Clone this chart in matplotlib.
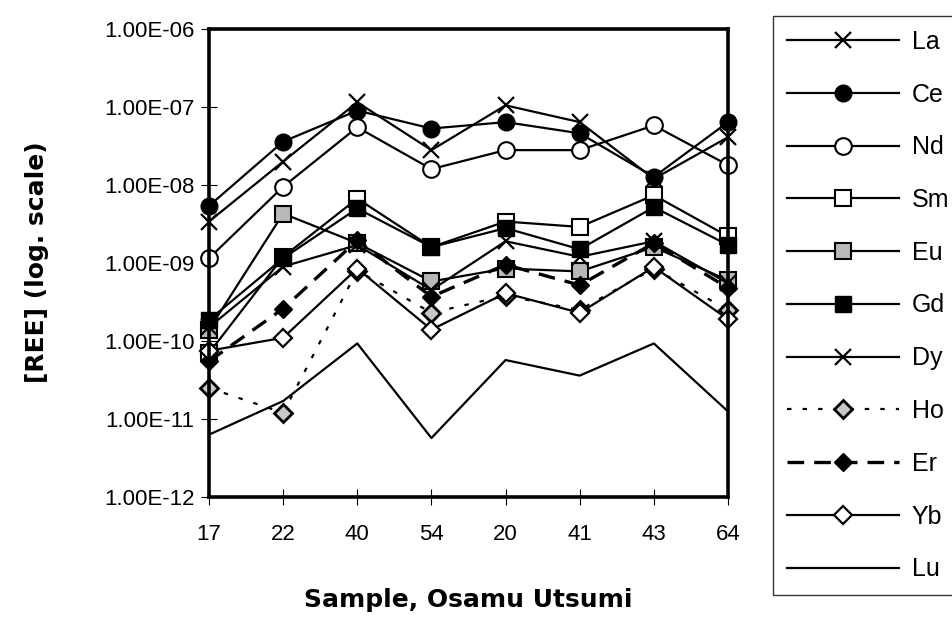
import matplotlib
matplotlib.use("Agg")
import matplotlib.pyplot as plt
from matplotlib.ticker import FixedLocator, FuncFormatter, NullLocator

plt.rcParams['font.family'] = ['Liberation Sans', 'DejaVu Sans']

samples = ['17', '22', '40', '54', '20', '41', '43', '64']
La = [3.4e-9, 2.0e-8, 1.15e-7, 2.8e-8, 1.05e-7, 6.4e-8, 1.2e-8, 4.1e-8]
Ce = [5.4e-9, 3.6e-8, 9.0e-8, 5.3e-8, 6.4e-8, 4.6e-8, 1.27e-8, 6.4e-8]
Nd = [1.15e-9, 9.5e-9, 5.5e-8, 1.6e-8, 2.8e-8, 2.8e-8, 5.8e-8, 1.8e-8]
Sm = [7.0e-11, 1.2e-9, 6.7e-9, 1.6e-9, 3.4e-9, 2.9e-9, 7.4e-9, 2.2e-9]
Eu = [1.4e-10, 4.3e-9, 1.8e-9, 5.8e-10, 8.5e-10, 7.8e-10, 1.6e-9, 6.0e-10]
Gd = [1.86e-10, 1.15e-9, 5.0e-9, 1.6e-9, 2.8e-9, 1.5e-9, 5.2e-9, 1.7e-9]
Dy = [1.5e-10, 9.0e-10, 1.7e-9, 4.5e-10, 1.9e-9, 1.2e-9, 1.9e-9, 5.5e-10]
Ho = [2.5e-11, 1.2e-11, 8.0e-10, 2.3e-10, 3.8e-10, 2.5e-10, 8.5e-10, 2.5e-10]
Er = [5.5e-11, 2.6e-10, 1.95e-9, 3.7e-10, 9.5e-10, 5.2e-10, 1.8e-9, 4.8e-10]
Yb = [7.5e-11, 1.1e-10, 8.5e-10, 1.4e-10, 4.1e-10, 2.3e-10, 8.9e-10, 1.9e-10]
Lu = [6.3e-12, 1.7e-11, 9.3e-11, 5.7e-12, 5.7e-11, 3.6e-11, 9.3e-11, 1.25e-11]

y_ticks = [1e-12, 1e-11, 1e-10, 1e-9, 1e-8, 1e-7, 1e-6]

fig = plt.figure(figsize=(9.52, 6.2), dpi=100)
ax = fig.add_axes([209/952, 123/620, 519/952, 468/620])

x = list(range(len(samples)))
lw = 1.6
series = [
    ('La', La, dict(marker='x', ms=12, mew=1.6, color='black', ls='-', lw=lw)),
    ('Ce', Ce, dict(marker='o', ms=12, mfc='black', mec='black', color='black', ls='-', lw=lw)),
    ('Nd', Nd, dict(marker='o', ms=12, mfc='white', mec='black', mew=1.5, color='black', ls='-', lw=lw)),
    ('Sm', Sm, dict(marker='s', ms=12, mfc='white', mec='black', mew=1.5, color='black', ls='-', lw=lw)),
    ('Eu', Eu, dict(marker='s', ms=12, mfc='#b8b8b8', mec='black', mew=1.5, color='black', ls='-', lw=lw)),
    ('Gd', Gd, dict(marker='s', ms=12, mfc='black', mec='black', color='black', ls='-', lw=lw)),
    ('Dy', Dy, dict(marker='x', ms=12, mew=1.6, color='black', ls='-', lw=lw)),
    ('Ho', Ho, dict(marker='D', ms=9, mfc='#c8c8c8', mec='black', mew=2, color='black', ls=(0, (2, 5)), lw=1.6)),
    ('Er', Er, dict(marker='D', ms=9, mfc='black', mec='black', color='black', ls=(0, (5, 3)), lw=2.4)),
    ('Yb', Yb, dict(marker='D', ms=9, mfc='white', mec='black', mew=1.6, color='black', ls='-', lw=lw)),
    ('Lu', Lu, dict(marker='None', color='black', ls='-', lw=lw)),
]

handles = []
for name, vals, kw in series:
    h, = ax.plot(x, vals, label=name, clip_on=False, **kw)
    handles.append(h)

ax.set_yscale('log')
ax.set_ylim(1e-12, 1e-6)
ax.set_xlim(0, len(samples) - 1)
ax.yaxis.set_major_locator(FixedLocator(y_ticks))
ax.yaxis.set_minor_locator(NullLocator())
ax.yaxis.set_major_formatter(FuncFormatter(lambda v, p: ('%.2E' % v)))
ax.set_xticks(x)
ax.set_xticklabels(samples)

for s in ax.spines.values():
    s.set_linewidth(2.6)
    s.set_color('black')

ax.tick_params(axis='y', direction='inout', length=11, width=0.8, labelsize=16, pad=5)
ax.tick_params(axis='x', direction='inout', length=11, width=0.8, labelsize=16, pad=14)

fig.text(37/952, 1 - 262/620, '[REE] (log. scale)', rotation=90, ha='center', va='center',
         fontsize=18, fontweight='bold', family=['DejaVu Sans'])
fig.text(468/952, 1 - 600/620, 'Sample, Osamu Utsumi', ha='center', va='center',
         fontsize=18, fontweight='bold', family=['DejaVu Sans'])

leg = fig.legend(handles=handles, loc='upper left', bbox_to_anchor=(773/952, 1 - 16/620),
                 borderaxespad=0, frameon=True, fancybox=False, edgecolor='black', fontsize=18,
                 handlelength=4.5, labelspacing=1.15, borderpad=0.55, handletextpad=0.5)
leg.get_frame().set_linewidth(1.0)

fig.savefig('out.png', dpi=100)
